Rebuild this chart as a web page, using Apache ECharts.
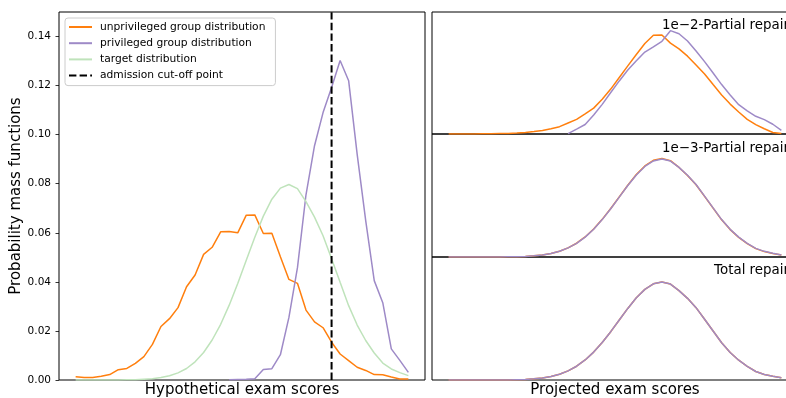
<!DOCTYPE html>
<html>
<head>
<meta charset="utf-8">
<script src="https://cdn.jsdelivr.net/npm/echarts@6/dist/echarts.min.js"></script>
<style>
html,body{margin:0;padding:0;background:#fff;}
#chart{width:786px;height:398px;}
</style>
</head>
<body>
<div id="chart"></div>
<script>
// score bins (x positions, shared by all panels)
const scores = [0,1,2,3,4,5,6,7,8,9,10,11,12,13,14,15,16,17,18,19,20,21,22,23,24,25,26,27,28,29,30,31,32,33,34,35,36,37,38,39];
const cutoffScore = 30;
const yTicks = [0, 0.02, 0.04, 0.06, 0.08, 0.10, 0.12, 0.14];

// left panel: original distributions
const unprivileged = [0.0013,0.0010,0.0010,0.0015,0.0022,0.0042,0.0047,0.0068,0.0095,0.0145,0.0218,0.0250,0.0295,0.0380,0.0428,0.0512,0.0541,0.0604,0.0605,0.0600,0.0672,0.0673,0.0597,0.0598,0.0502,0.0410,0.0394,0.0285,0.0237,0.0213,0.0154,0.0106,0.0079,0.0052,0.0039,0.0022,0.0021,0.0012,0.0004,0.0004];
const privileged = [null,null,null,null,null,null,null,null,null,null,null,null,null,null,null,null,null,null,0.0001,0.0002,0.0003,0.0005,0.0043,0.0046,0.0103,0.0255,0.0458,0.0755,0.0955,0.1090,0.1192,0.1302,0.1220,0.0920,0.0650,0.0405,0.0315,0.0127,0.0080,0.0031];
const target = [0.0000,0.0000,0.0000,0.0000,0.0000,0.0000,0.0001,0.0001,0.0003,0.0005,0.0010,0.0017,0.0029,0.0047,0.0074,0.0112,0.0163,0.0227,0.0305,0.0393,0.0488,0.0582,0.0668,0.0737,0.0782,0.0797,0.0780,0.0727,0.0664,0.0588,0.0494,0.0398,0.0303,0.0224,0.0161,0.0110,0.0069,0.0045,0.0030,0.0018];

// right panels: projected distributions
const partial2Unpriv = [0.0000,0.0000,0.0001,0.0001,0.0002,0.0003,0.0004,0.0005,0.0008,0.0013,0.0020,0.0028,0.0043,0.0060,0.0090,0.0120,0.0165,0.0212,0.0284,0.0368,0.0463,0.0558,0.0652,0.0742,0.0810,0.0811,0.0745,0.0698,0.0638,0.0565,0.0492,0.0405,0.0320,0.0245,0.0180,0.0120,0.0077,0.0043,0.0012,0.0005];
const partial2Priv = [null,null,null,null,null,null,null,null,null,null,null,null,null,null,0.0003,0.0040,0.0078,0.0155,0.0243,0.0340,0.0435,0.0525,0.0600,0.0672,0.0715,0.0760,0.0847,0.0822,0.0762,0.0680,0.0593,0.0500,0.0405,0.0320,0.0240,0.0190,0.0145,0.0118,0.0080,0.0030];
const partial3Unpriv = [0.0000,0.0000,0.0000,0.0000,0.0000,0.0001,0.0001,0.0002,0.0003,0.0005,0.0010,0.0017,0.0029,0.0047,0.0074,0.0112,0.0163,0.0228,0.0306,0.0394,0.0489,0.0583,0.0670,0.0740,0.0786,0.0800,0.0783,0.0728,0.0663,0.0587,0.0493,0.0397,0.0302,0.0223,0.0160,0.0109,0.0068,0.0044,0.0029,0.0016];
const partial3Priv = [0.0000,0.0000,0.0000,0.0000,0.0000,0.0001,0.0001,0.0002,0.0003,0.0005,0.0010,0.0017,0.0029,0.0047,0.0074,0.0111,0.0162,0.0226,0.0304,0.0392,0.0487,0.0581,0.0667,0.0736,0.0781,0.0796,0.0780,0.0729,0.0665,0.0589,0.0495,0.0399,0.0304,0.0225,0.0162,0.0111,0.0070,0.0046,0.0031,0.0017];
const totalUnpriv = target;
const totalPriv = target;

const panelLabels = ['1e\u22122-Partial repair', '1e\u22123-Partial repair', 'Total repair'];

const ORANGE = '#ff7f0e', PURPLE = '#9e8ac7', GREEN = '#bfe3bb';
const FONT = 'DejaVu Sans';

function pairs(vals) {
  const out = [];
  vals.forEach((v, i) => { if (v !== null) out.push([scores[i], v]); });
  return out;
}

const chart = echarts.init(document.getElementById('chart'), null, {renderer: 'canvas'});

const xMin = -1.95, xMax = 40.95;
const grids = [
  {left: 59, top: 12, width: 366, height: 368},
  {left: 432, top: 12, width: 366, height: 122},
  {left: 432, top: 134, width: 366, height: 123},
  {left: 432, top: 257, width: 366, height: 123}
].map(g => Object.assign(g, {show: true, borderColor: '#000', borderWidth: 1, backgroundColor: 'transparent',
  containLabel: false, outerBoundsMode: 'none'}));

const xAxes = grids.map((g, i) => ({
  type: 'value', gridIndex: i, min: xMin, max: xMax,
  axisLine: {show: false, onZero: false}, axisTick: {show: false}, axisLabel: {show: false}, splitLine: {show: false},
  name: i === 0 ? 'Hypothetical exam scores' : (i === 3 ? 'Projected exam scores' : ''),
  nameLocation: 'middle', nameGap: 3, nameMoveOverlap: false,
  nameTextStyle: {fontFamily: FONT, fontSize: 15, color: '#000'}
}));

const yAxes = grids.map((g, i) => i === 0 ? ({
  type: 'value', gridIndex: 0, min: 0, max: 0.15, interval: 0.02,
  axisLine: {show: false, onZero: false},
  axisTick: {show: true, length: 3.5, inside: false, lineStyle: {color: '#000', width: 0.8}},
  axisLabel: {show: true, showMaxLabel: false, margin: 8, fontFamily: FONT, fontSize: 10.5, color: '#000',
    formatter: v => yTicks.some(t => Math.abs(t - v) < 1e-9) ? v.toFixed(2) : ''},
  splitLine: {show: false},
  name: 'Probability mass functions', nameLocation: 'middle', nameGap: 35, nameMoveOverlap: false,
  nameTextStyle: {fontFamily: FONT, fontSize: 15, color: '#000'}
}) : ({
  type: 'value', gridIndex: i, min: 0, max: 0.1,
  axisLine: {show: false, onZero: false}, axisTick: {show: false}, axisLabel: {show: false}, splitLine: {show: false}
}));

function line(name, data, color, xi, extra) {
  return Object.assign({
    type: 'line', name: name, xAxisIndex: xi, yAxisIndex: xi, data: data,
    showSymbol: false, symbol: 'none', animation: false, silent: true,
    lineStyle: {color: color, width: 1.5}, itemStyle: {color: color}
  }, extra || {});
}

const series = [
  line('unprivileged group distribution', pairs(unprivileged), ORANGE, 0),
  line('privileged group distribution', pairs(privileged), PURPLE, 0),
  line('target distribution', pairs(target), GREEN, 0),
  line('admission cut-off point', [[cutoffScore, 0], [cutoffScore, 0.15]], '#000', 0,
    {lineStyle: {color: '#000', width: 2, type: [7.4, 3.2]}, z: 5}),
  line('p1u', pairs(partial2Unpriv), ORANGE, 1),
  line('p1p', pairs(partial2Priv), PURPLE, 1),
  line('p2u', pairs(partial3Unpriv), ORANGE, 2),
  line('p2p', pairs(partial3Priv), PURPLE, 2),
  line('p3u', pairs(totalUnpriv), ORANGE, 3),
  line('p3p', pairs(totalPriv), PURPLE, 3)
];

const labelY = [26, 148.5, 271];
const graphic = panelLabels.map((t, i) => ({
  type: 'text', x: 789, y: labelY[i], z: 10,
  style: {text: t, fontFamily: FONT, fontSize: 13.4, fill: '#000', align: 'right', verticalAlign: 'middle'}
}));

chart.setOption({
  animation: false,
  backgroundColor: '#fff',
  grid: grids,
  xAxis: xAxes,
  yAxis: yAxes,
  legend: {
    data: ['unprivileged group distribution', 'privileged group distribution', 'target distribution', 'admission cut-off point'],
    orient: 'vertical', left: 65, top: 18,
    itemWidth: 23, itemHeight: 11, itemGap: 5.2,
    padding: [3.5, 10, 4.5, 3],
    borderColor: '#cccccc', borderWidth: 1, borderRadius: 3,
    backgroundColor: 'rgba(255,255,255,0.8)',
    itemStyle: {opacity: 0},
    textStyle: {fontFamily: FONT, fontSize: 10.7, color: '#000', padding: [0, 0, 0, 3]},
    selectedMode: false
  },
  graphic: graphic,
  series: series
});
</script>
</body>
</html>
